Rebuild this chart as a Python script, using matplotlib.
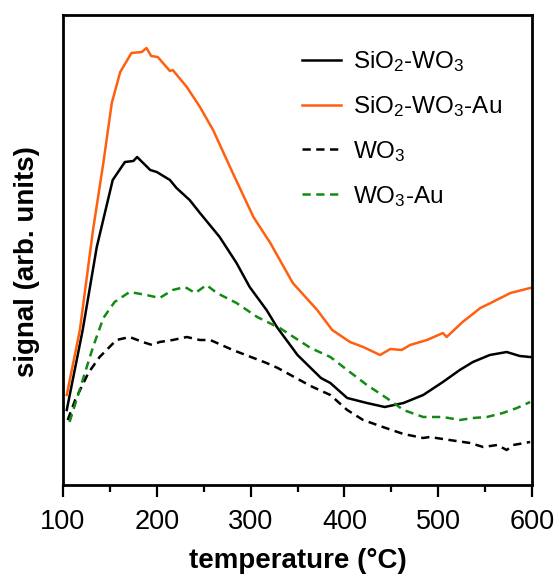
import matplotlib
matplotlib.use("Agg")
import matplotlib.pyplot as plt
from matplotlib.ticker import MultipleLocator

plt.rcParams['font.family'] = ['Liberation Sans', 'DejaVu Sans']
plt.rcParams['mathtext.fontset'] = 'custom'
plt.rcParams['mathtext.rm'] = 'Liberation Sans'
plt.rcParams['mathtext.it'] = 'Liberation Sans:italic'
plt.rcParams['mathtext.bf'] = 'Liberation Sans:bold'

# SiO2-WO3-Au (orange, solid)
t_sio2_wo3_au = [104, 118, 132, 143, 152, 161, 173, 184, 189, 194, 201, 214, 217, 232, 246, 260,
                 281, 303, 321, 345, 371, 387, 406, 420, 438, 449, 461, 470, 488, 505, 509, 526,
                 545, 558, 577, 598]
s_sio2_wo3_au = [90, 155, 255, 322, 382, 413, 432, 433, 437, 429, 428, 414, 415, 398, 378, 355,
                 312, 268, 242, 202, 175, 155, 143, 138, 130, 136, 135, 140, 145, 152, 148, 163,
                 177, 183, 192, 197]

# SiO2-WO3 (black, solid)
t_sio2_wo3 = [104, 121, 136, 153, 166, 175, 179, 193, 200, 214, 221, 235, 246, 267, 285, 299,
              317, 328, 350, 375, 385, 403, 424, 443, 463, 484, 505, 523, 537, 555, 573, 587, 598]
s_sio2_wo3 = [75, 155, 238, 305, 323, 324, 328, 315, 313, 305, 297, 285, 272, 248, 222, 198,
              175, 158, 130, 107, 102, 87, 82, 78, 82, 90, 103, 115, 123, 130, 133, 129, 128]

# WO3 (black, dashed)
t_wo3 = [105, 113, 127, 139, 157, 171, 185, 195, 203, 217, 232, 246, 257, 281, 317, 329, 364,
         385, 403, 420, 441, 463, 484, 491, 512, 534, 548, 563, 573, 580, 598]
s_wo3 = [65, 85, 112, 128, 145, 148, 143, 140, 143, 145, 148, 145, 145, 135, 122, 117, 99,
         90, 75, 65, 58, 51, 47, 48, 45, 42, 38, 40, 35, 40, 43]

# WO3-Au (green, dashed)
t_wo3_au = [107, 121, 132, 143, 155, 171, 189, 203, 217, 230, 241, 253, 264, 285, 307, 331, 364,
            385, 403, 424, 445, 463, 484, 505, 523, 537, 552, 569, 584, 598]
s_wo3_au = [63, 105, 138, 167, 183, 193, 190, 187, 195, 198, 192, 200, 192, 182, 168, 157, 137,
            128, 115, 100, 87, 75, 68, 68, 65, 67, 68, 72, 77, 83]

labels = ['SiO$_2$-WO$_3$', 'SiO$_2$-WO$_3$-Au', 'WO$_3$', 'WO$_3$-Au']
xticks = [100, 200, 300, 400, 500, 600]

orange = '#ff5f0f'
green = '#138a13'

fig = plt.figure(figsize=(5.56, 5.76), dpi=100)
ax = fig.add_axes([63/556, 1 - 485/576, (532-63)/556, (485-15)/576])

lw = 1.8
ax.plot(t_sio2_wo3, s_sio2_wo3, color='black', lw=lw, label=labels[0])
ax.plot(t_sio2_wo3_au, s_sio2_wo3_au, color=orange, lw=lw, label=labels[1])
l3, = ax.plot(t_wo3, s_wo3, color='black', lw=lw, label=labels[2])
l4, = ax.plot(t_wo3_au, s_wo3_au, color=green, lw=lw, label=labels[3])
for l in (l3, l4):
    l.set_dashes((3.3, 2.2))

ax.set_xlim(100, 600)
ax.set_ylim(0, 470)
ax.set_xticks(xticks)
ax.xaxis.set_minor_locator(MultipleLocator(50))
ax.set_yticks([])
ax.tick_params(axis='x', which='major', direction='out', length=8.5, width=1.6,
               labelsize=19.5, pad=9)
ax.tick_params(axis='x', which='minor', direction='out', length=5, width=1.6)
for sp in ax.spines.values():
    sp.set_linewidth(2.0)

ax.set_xlabel('temperature (°C)', fontsize=20, fontweight='bold', labelpad=9)
ax.set_ylabel('signal (arb. units)', fontsize=20, fontweight='bold')
ax.yaxis.set_label_coords(-0.049, 0.475)

leg = ax.legend(loc='upper left', bbox_to_anchor=(0.51, 0.927), frameon=False,
                fontsize=17.5, handlelength=1.6, handletextpad=0.5, labelspacing=0.82,
                borderpad=0, borderaxespad=0)

fig.savefig('out.png', dpi=100)
